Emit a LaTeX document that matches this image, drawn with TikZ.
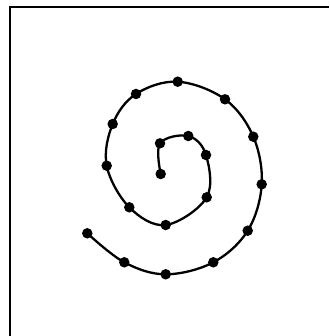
\documentclass[tikz,border=0pt]{standalone}
\begin{document}
\begin{tikzpicture}[x=1pt,y=-1pt,
  dot/.style={circle,fill=black,inner sep=0pt,minimum size=10.5pt},
  spiral/.style={line width=2.3pt,line cap=round,line join=round},
  frameline/.style={line width=2pt}]
\useasboundingbox (0,0) rectangle (329,336);
\coordinate (tl) at (9.5,7.5);
\coordinate (tr) at (329,7.5);
\coordinate (bl) at (9.5,336);
\draw[frameline] (tr) -- (tl) -- (bl);
\draw[spiral] plot[smooth,tension=0.6] coordinates {
 (160.7,174) (160,143.3) (188.3,136) (206,155) (206.7,197.3) (165.7,225)
 (129.3,207.3) (106.7,165.7) (112.7,124) (136,94) (177.7,81.7) (225,99.3)
 (253.3,136.7) (261.7,184.3) (247.7,230.7) (213.3,262.3) (165.7,274.3)
 (124.3,262.3) (87.3,233.3)};
\foreach \p [count=\i] in {(160.7,174),(160,143.3),(188.3,136),(206,155),(206.7,197.3),(165.7,225),
 (129.3,207.3),(106.7,165.7),(112.7,124),(136,94),(177.7,81.7),(225,99.3),
 (253.3,136.7),(261.7,184.3),(247.7,230.7),(213.3,262.3),(165.7,274.3),
 (124.3,262.3),(87.3,233.3)}
  \node[dot] (d\i) at \p {};
\end{tikzpicture}
\end{document}
